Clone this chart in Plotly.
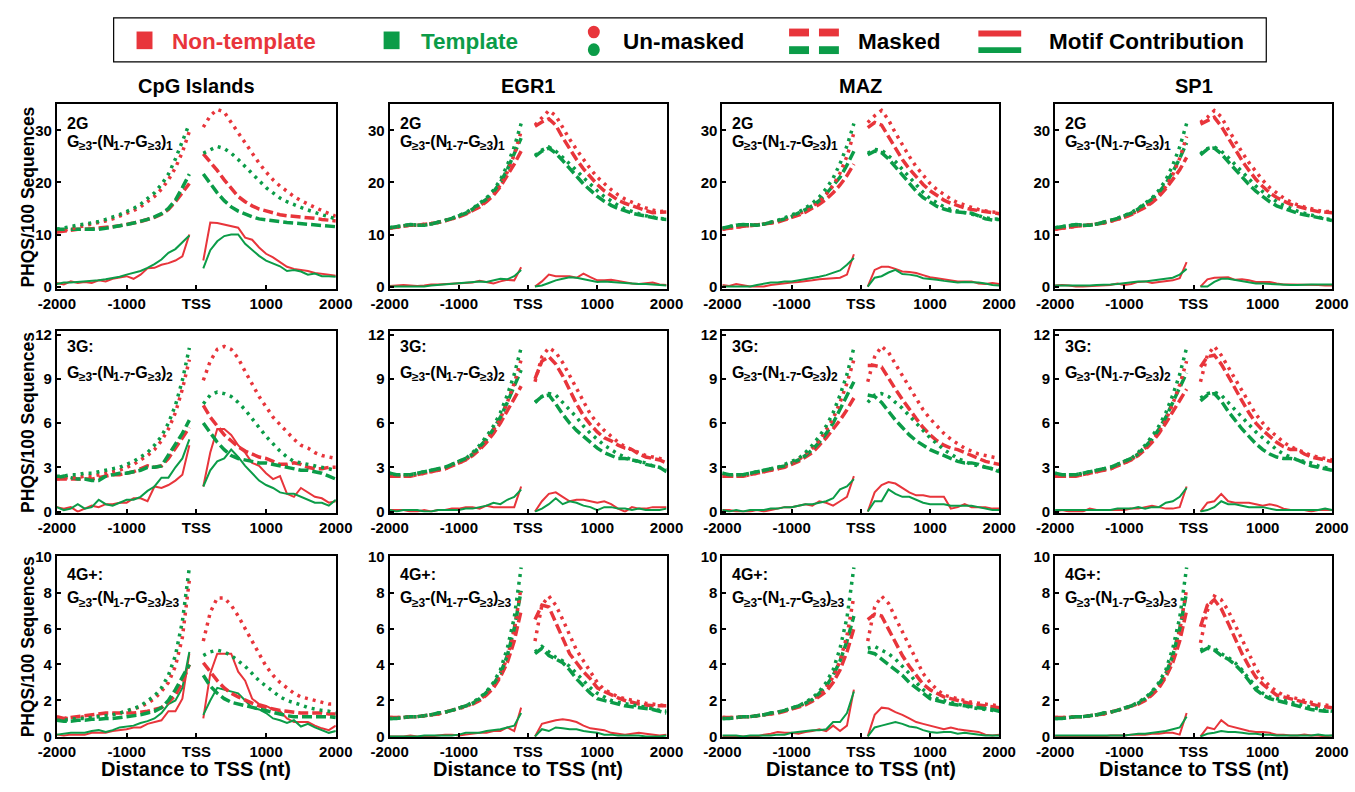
import plotly.graph_objects as go

# ---------------- data ----------------
POS = [-2000, -1900, -1800, -1700, -1600, -1500, -1400, -1300, -1200, -1100,
       -1000, -900, -800, -700, -600, -500, -400, -300, -200, -100,
       100, 200, 300, 400, 500, 600, 700, 800, 900, 1000,
       1100, 1200, 1300, 1400, 1500, 1600, 1700, 1800, 1900, 2000]

COLUMNS = ["CpG Islands", "EGR1", "MAZ", "SP1"]
ROW_LABELS = ["2G", "3G:", "4G+:"]
ROW_SUBS = ["1", "2", "≥3"]
X_TICK_VALS = [-2000, -1000, 0, 1000, 2000]
X_TICK_TEXT = ["-2000", "-1000", "TSS", "1000", "2000"]
Y_TICKS = [[0, 10, 20, 30], [0, 3, 6, 9, 12], [0, 2, 4, 6, 8, 10]]
Y_RANGES = [[-0.5, 35.05], [-0.07, 12.22], [-0.03, 10.05]]

# ---- CpG Islands, 2G ----
cpg_2g_nt_um = [10.5, 10.8, 11.0, 11.3, 11.6, 11.9, 12.2, 12.6, 13.0, 13.5, 14.0, 14.6, 15.3, 16.2, 17.3, 18.7, 20.5, 22.8, 25.8, 29.8,
                30.6, 32.8, 34.0, 33.5, 31.5, 29.5, 27.5, 25.5, 23.7, 22.0, 20.5, 19.3, 18.2, 17.3, 16.5, 15.8, 15.2, 14.6, 14.0, 13.5]
cpg_2g_t_um = [11.0, 11.3, 11.6, 11.8, 12.0, 12.2, 12.5, 12.9, 13.3, 13.8, 14.4, 15.0, 15.8, 16.8, 18.0, 19.6, 21.6, 24.5, 28.0, 31.3,
               25.6, 26.3, 26.9, 26.5, 25.6, 24.4, 23.0, 21.6, 20.3, 19.0, 18.0, 17.0, 16.3, 15.7, 15.2, 14.7, 14.2, 13.8, 13.4, 13.0]
cpg_2g_nt_m = [10.5, 10.7, 10.9, 11.0, 11.0, 11.1, 11.2, 11.3, 11.5, 11.7, 11.9, 12.2, 12.5, 12.9, 13.3, 13.9, 14.8, 16.3, 18.0, 19.8,
               25.5, 24.0, 22.3, 20.5, 18.8, 17.3, 16.3, 15.5, 14.9, 14.5, 14.1, 13.8, 13.6, 13.5, 13.4, 13.3, 13.1, 12.9, 12.7, 12.6]
cpg_2g_t_m = [11.0, 11.0, 11.0, 10.9, 10.9, 10.9, 11.0, 11.2, 11.4, 11.6, 11.9, 12.2, 12.5, 12.9, 13.4, 14.0, 15.0, 16.6, 19.0, 21.6,
              21.6, 19.8, 18.0, 16.5, 15.3, 14.5, 13.9, 13.4, 13.0, 12.8, 12.6, 12.4, 12.3, 12.2, 12.1, 12.0, 11.9, 11.7, 11.6, 11.5]
cpg_2g_nt_mc = [0.7, 0.4, 1.0, 0.7, 0.9, 0.7, 1.2, 1.0, 1.5, 1.7, 2.0, 1.5, 2.3, 3.5, 3.6, 4.2, 4.5, 5.0, 5.8, 10.0,
                5.0, 12.3, 12.2, 11.9, 11.6, 11.3, 9.4, 9.0, 7.5, 6.3, 5.6, 4.7, 3.8, 3.4, 3.2, 3.0, 2.6, 2.5, 2.3, 2.1]
cpg_2g_t_mc = [0.5, 0.8, 0.8, 0.9, 1.0, 1.0, 1.2, 1.4, 1.6, 1.9, 2.3, 2.6, 3.0, 3.6, 4.3, 5.2, 6.5, 7.2, 8.5, 9.8,
               3.5, 7.0, 8.7, 9.7, 10.0, 10.0, 8.2, 7.0, 5.9, 5.0, 4.5, 3.9, 3.0, 3.2, 2.9, 2.3, 2.5, 2.0, 2.0, 1.9]

# ---- CpG Islands, 3G ----
cpg_3g_nt_um = [2.2, 2.3, 2.3, 2.3, 2.4, 2.4, 2.5, 2.6, 2.7, 2.8, 3.0, 3.2, 3.5, 3.8, 4.2, 4.8, 5.6, 6.7, 8.3, 10.3,
                8.9, 10.2, 11.0, 11.2, 11.0, 10.4, 9.5, 8.6, 7.8, 7.1, 6.4, 5.9, 5.4, 4.9, 4.5, 4.3, 4.0, 3.8, 3.7, 3.6]
cpg_3g_t_um = [2.4, 2.4, 2.5, 2.5, 2.6, 2.6, 2.7, 2.8, 2.9, 3.0, 3.2, 3.4, 3.7, 4.0, 4.5, 5.1, 6.0, 7.2, 8.9, 11.1,
               7.3, 7.9, 8.1, 8.0, 7.8, 7.4, 6.9, 6.3, 5.7, 5.1, 4.6, 4.1, 3.7, 3.4, 3.3, 3.2, 3.1, 3.0, 2.9, 2.8]
cpg_3g_nt_m = [2.2, 2.2, 2.2, 2.2, 2.2, 2.2, 2.3, 2.4, 2.5, 2.5, 2.6, 2.7, 2.9, 3.1, 3.0, 3.1, 3.6, 4.3, 5.0, 5.7,
               7.2, 6.4, 5.8, 5.2, 4.8, 4.4, 4.1, 3.9, 3.7, 3.6, 3.4, 3.2, 3.2, 3.3, 3.2, 3.0, 2.9, 2.9, 3.0, 3.0]
cpg_3g_t_m = [2.3, 2.4, 2.3, 2.2, 2.2, 2.1, 2.1, 2.4, 2.5, 2.6, 2.6, 2.7, 2.8, 3.0, 3.0, 3.1, 3.8, 4.5, 5.3, 6.2,
              6.0, 5.3, 4.7, 4.2, 3.8, 3.6, 3.5, 3.4, 3.3, 3.3, 3.2, 3.1, 3.0, 2.9, 2.8, 2.8, 2.7, 2.6, 2.4, 2.2]
cpg_3g_nt_mc = [0.3, 0.2, 0.3, 0.0, 0.2, 0.4, 0.3, 0.5, 0.5, 0.6, 0.6, 0.9, 0.9, 0.7, 1.7, 1.6, 1.8, 2.1, 2.5, 4.5,
                1.7, 4.0, 5.6, 5.6, 5.2, 4.5, 4.0, 3.3, 3.1, 2.6, 2.2, 2.4, 1.2, 1.0, 1.6, 1.3, 1.0, 0.9, 0.6, 0.7]
cpg_3g_t_mc = [0.3, 0.1, 0.2, 0.5, 0.2, 0.3, 0.8, 0.5, 0.4, 0.6, 0.8, 0.8, 1.0, 1.4, 1.7, 2.3, 2.3, 3.0, 3.6, 4.9,
               1.7, 2.8, 3.4, 3.6, 4.2, 3.7, 3.1, 2.6, 2.1, 1.8, 1.6, 1.3, 1.2, 1.2, 1.0, 0.8, 0.6, 0.6, 0.4, 0.8]

# ---- CpG Islands, 4G+ ----
cpg_4g_nt_um = [1.0, 1.0, 1.0, 1.05, 1.1, 1.1, 1.15, 1.2, 1.25, 1.3, 1.4, 1.5, 1.65, 1.85, 2.1, 2.5, 3.0, 3.9, 5.5, 8.7,
                5.3, 6.9, 7.7, 7.7, 7.3, 6.7, 6.0, 5.3, 4.6, 3.9, 3.4, 3.0, 2.7, 2.4, 2.2, 2.1, 2.0, 1.9, 1.8, 1.8]
cpg_4g_t_um = [0.9, 0.9, 0.95, 1.0, 1.0, 1.05, 1.1, 1.15, 1.2, 1.3, 1.4, 1.55, 1.7, 1.95, 2.25, 2.7, 3.4, 4.5, 6.4, 9.4,
               4.5, 4.7, 4.8, 4.7, 4.5, 4.2, 3.9, 3.5, 3.1, 2.8, 2.5, 2.2, 2.0, 1.9, 1.75, 1.6, 1.5, 1.45, 1.4, 1.3]
cpg_4g_nt_m = [1.1, 1.0, 1.05, 1.1, 1.15, 1.2, 1.25, 1.3, 1.3, 1.3, 1.3, 1.3, 1.35, 1.4, 1.5, 1.6, 1.9, 2.3, 3.0, 4.0,
               4.1, 3.6, 3.1, 2.7, 2.4, 2.2, 2.0, 1.85, 1.7, 1.6, 1.5, 1.45, 1.4, 1.35, 1.3, 1.3, 1.3, 1.3, 1.25, 1.25]
cpg_4g_t_m = [0.9, 0.85, 0.85, 0.9, 0.9, 0.95, 0.95, 1.0, 1.0, 1.05, 1.1, 1.15, 1.2, 1.3, 1.4, 1.6, 2.0, 2.6, 3.3, 4.0,
              3.4, 2.8, 2.4, 2.1, 1.9, 1.8, 1.7, 1.6, 1.5, 1.4, 1.3, 1.2, 1.15, 1.1, 1.1, 1.1, 1.1, 1.1, 1.1, 1.05]
cpg_4g_nt_mc = [0.1, 0.05, 0.1, 0.1, 0.1, 0.2, 0.2, 0.2, 0.3, 0.35, 0.4, 0.5, 0.5, 0.7, 0.8, 0.9, 1.4, 1.4, 2.1, 4.6,
                1.0, 3.5, 4.6, 4.6, 4.6, 3.6, 3.1, 2.1, 1.8, 1.7, 1.5, 1.4, 1.0, 0.8, 0.8, 0.8, 0.6, 0.45, 0.35, 0.6]
cpg_4g_t_mc = [0.1, 0.15, 0.2, 0.2, 0.2, 0.3, 0.35, 0.25, 0.35, 0.5, 0.55, 0.6, 0.75, 0.85, 1.0, 1.3, 1.8, 2.0, 2.7, 4.7,
               1.2, 2.0, 2.7, 2.6, 2.5, 2.4, 2.0, 1.6, 1.5, 1.3, 1.0, 0.9, 0.75, 0.9, 0.55, 0.7, 0.5, 0.35, 0.2, 0.3]

# ---- EGR1, 2G ----
egr1_2g_nt_um = [11.2, 11.4, 11.6, 11.8, 11.8, 11.9, 12.1, 12.3, 12.6, 13.0, 13.5, 14.0, 14.7, 15.5, 16.5, 17.8, 19.5, 22.0, 25.3, 29.8,
                 31.0, 32.5, 33.8, 32.8, 30.5, 28.3, 26.3, 24.4, 22.6, 21.0, 19.7, 18.6, 17.6, 16.8, 16.2, 15.6, 15.1, 14.7, 14.4, 14.5]
egr1_2g_t_um = [11.3, 11.5, 11.8, 11.9, 11.8, 11.8, 12.0, 12.3, 12.7, 13.1, 13.6, 14.2, 15.0, 15.9, 17.0, 18.5, 20.5, 23.3, 26.8, 31.3,
                25.2, 26.2, 26.8, 26.0, 24.8, 23.6, 22.3, 20.9, 19.6, 18.4, 17.3, 16.4, 15.6, 14.9, 14.4, 14.0, 13.6, 13.3, 13.1, 13.0]
egr1_2g_nt_m = [11.2, 11.4, 11.6, 11.8, 11.8, 11.9, 12.1, 12.3, 12.6, 13.0, 13.4, 13.9, 14.6, 15.3, 16.3, 17.5, 19.2, 21.3, 23.5, 26.0,
                30.8, 31.6, 32.2, 31.0, 28.6, 26.4, 24.4, 22.6, 21.0, 19.6, 18.4, 17.4, 16.6, 16.0, 15.5, 15.0, 14.6, 14.2, 14.2, 14.3]
egr1_2g_t_m = [11.3, 11.5, 11.8, 11.9, 11.8, 11.8, 12.0, 12.3, 12.7, 13.1, 13.6, 14.1, 14.9, 15.8, 16.8, 18.2, 20.0, 22.5, 25.5, 28.5,
               25.0, 26.0, 26.6, 25.6, 24.2, 22.8, 21.2, 19.7, 18.4, 17.3, 16.4, 15.6, 15.0, 14.5, 14.1, 13.8, 13.5, 13.2, 13.0, 12.9]
egr1_2g_nt_mc = [0.1, 0.2, 0.3, 0.2, 0.1, 0.2, 0.4, 0.4, 0.5, 0.6, 0.6, 0.7, 0.8, 1.1, 0.8, 0.6, 1.0, 1.3, 1.2, 3.7,
                 0.0, 1.0, 2.3, 2.0, 2.0, 2.0, 1.7, 2.5, 1.8, 1.2, 1.2, 1.3, 1.1, 0.8, 0.6, 0.5, 0.7, 0.8, 0.4, 0.3]
egr1_2g_t_mc = [0.0, 0.0, 0.1, 0.0, 0.0, 0.0, 0.2, 0.3, 0.4, 0.5, 0.7, 0.8, 0.9, 1.0, 0.9, 1.2, 1.5, 1.4, 2.0, 3.2,
                0.0, 0.2, 0.7, 1.2, 1.5, 1.8, 1.7, 1.4, 1.2, 0.9, 1.0, 0.9, 0.8, 0.6, 0.6, 0.5, 0.5, 0.4, 0.3, 0.2]

# ---- EGR1, 3G ----
egr1_3g_nt_um = [2.4, 2.4, 2.4, 2.4, 2.5, 2.6, 2.7, 2.8, 2.9, 3.1, 3.3, 3.5, 3.9, 4.3, 4.8, 5.5, 6.3, 7.4, 8.7, 10.3,
                 8.8, 10.5, 11.1, 10.8, 10.1, 9.2, 8.3, 7.4, 6.6, 6.0, 5.5, 5.1, 4.7, 4.4, 4.2, 4.0, 3.8, 3.7, 3.6, 3.5]
egr1_3g_t_um = [2.6, 2.5, 2.5, 2.5, 2.6, 2.7, 2.8, 2.9, 3.0, 3.2, 3.4, 3.6, 4.0, 4.5, 5.1, 5.8, 6.7, 7.9, 9.3, 11.1,
                7.4, 7.8, 8.0, 7.9, 7.4, 6.9, 6.4, 5.8, 5.3, 4.9, 4.5, 4.2, 3.9, 3.7, 3.5, 3.4, 3.3, 3.1, 3.0, 2.8]
egr1_3g_nt_m = [2.4, 2.4, 2.4, 2.4, 2.5, 2.6, 2.7, 2.8, 2.9, 3.1, 3.3, 3.5, 3.8, 4.2, 4.7, 5.3, 6.0, 6.8, 7.6, 8.5,
                9.0, 10.2, 10.5, 10.0, 9.2, 8.2, 7.3, 6.5, 5.9, 5.4, 5.0, 4.8, 4.5, 4.3, 4.2, 3.9, 3.7, 3.6, 3.5, 3.3]
egr1_3g_t_m = [2.6, 2.5, 2.5, 2.5, 2.6, 2.7, 2.8, 2.9, 3.0, 3.2, 3.4, 3.6, 3.9, 4.4, 4.9, 5.6, 6.4, 7.4, 8.5, 9.6,
               7.4, 7.8, 7.9, 7.3, 6.6, 6.0, 5.5, 5.1, 4.7, 4.3, 4.0, 3.8, 3.6, 3.6, 3.5, 3.4, 3.2, 3.1, 3.0, 2.7]
egr1_3g_nt_mc = [0.1, 0.1, 0.1, 0.0, 0.0, 0.1, 0.0, 0.1, 0.1, 0.2, 0.2, 0.3, 0.3, 0.2, 0.4, 0.3, 0.3, 0.3, 0.3, 1.7,
                 0.0, 0.7, 1.2, 1.3, 1.0, 0.7, 0.8, 0.8, 0.7, 0.6, 0.7, 0.5, 0.2, 0.0, 0.3, 0.2, 0.2, 0.3, 0.3, 0.3]
egr1_3g_t_mc = [0.1, 0.0, 0.1, 0.1, 0.1, 0.0, 0.0, 0.1, 0.1, 0.1, 0.1, 0.2, 0.2, 0.3, 0.4, 0.6, 0.5, 0.8, 1.0, 1.5,
                0.0, 0.2, 0.5, 0.9, 0.5, 0.7, 0.6, 0.4, 0.3, 0.1, 0.3, 0.3, 0.2, 0.2, 0.1, 0.2, 0.1, 0.1, 0.1, 0.2]

# ---- EGR1, 4G+ ----
egr1_4g_nt_um = [1.05, 1.05, 1.05, 1.1, 1.1, 1.15, 1.2, 1.25, 1.35, 1.45, 1.55, 1.65, 1.85, 2.05, 2.35, 2.8, 3.4, 4.4, 5.9, 8.3,
                 5.3, 7.3, 7.8, 7.3, 6.5, 5.6, 4.8, 4.2, 3.6, 3.0, 2.6, 2.4, 2.2, 2.1, 2.0, 1.9, 1.85, 1.8, 1.75, 1.7]
egr1_4g_t_um = [1.0, 1.0, 1.05, 1.1, 1.1, 1.15, 1.2, 1.3, 1.35, 1.45, 1.55, 1.7, 1.9, 2.15, 2.5, 3.0, 3.7, 4.9, 6.6, 9.4,
                4.7, 5.0, 4.7, 4.4, 4.2, 3.9, 3.5, 3.1, 2.7, 2.4, 2.2, 2.0, 1.9, 1.8, 1.75, 1.7, 1.6, 1.5, 1.45, 1.4]
egr1_4g_nt_m = [1.05, 1.05, 1.05, 1.1, 1.1, 1.15, 1.2, 1.25, 1.35, 1.45, 1.55, 1.65, 1.8, 2.0, 2.3, 2.7, 3.3, 4.1, 5.3, 7.0,
                6.5, 7.3, 7.2, 6.3, 5.5, 4.6, 4.1, 3.6, 3.2, 2.7, 2.5, 2.3, 2.15, 2.0, 1.9, 1.8, 1.75, 1.7, 1.7, 1.7]
egr1_4g_t_m = [1.0, 1.0, 1.05, 1.1, 1.1, 1.15, 1.2, 1.3, 1.35, 1.45, 1.55, 1.7, 1.85, 2.1, 2.45, 2.9, 3.5, 4.5, 6.0, 8.1,
               4.6, 4.9, 4.5, 4.3, 4.1, 3.7, 3.2, 2.8, 2.4, 2.1, 2.0, 1.9, 1.8, 1.7, 1.65, 1.6, 1.55, 1.5, 1.4, 1.3]
egr1_4g_nt_mc = [0.0, 0.0, 0.0, 0.05, 0.0, 0.0, 0.0, 0.05, 0.1, 0.1, 0.05, 0.1, 0.15, 0.2, 0.2, 0.3, 0.3, 0.5, 0.3, 1.6,
                 0.0, 0.7, 0.8, 0.9, 0.95, 0.9, 0.8, 0.6, 0.45, 0.4, 0.35, 0.2, 0.15, 0.1, 0.15, 0.2, 0.15, 0.1, 0.05, 0.1]
egr1_4g_t_mc = [0.0, 0.0, 0.0, 0.0, 0.0, 0.05, 0.05, 0.05, 0.05, 0.05, 0.1, 0.2, 0.2, 0.2, 0.3, 0.35, 0.4, 0.5, 0.6, 1.3,
                0.0, 0.4, 0.3, 0.5, 0.45, 0.4, 0.4, 0.3, 0.25, 0.2, 0.1, 0.1, 0.05, 0.05, 0.05, 0.05, 0.0, 0.0, 0.0, 0.05]

# ---- MAZ, 2G ----
maz_2g_nt_um = [11.0, 11.2, 11.5, 11.6, 11.7, 11.8, 12.0, 12.2, 12.5, 12.9, 13.4, 13.9, 14.6, 15.4, 16.4, 17.7, 19.4, 21.8, 25.0, 29.5,
                31.5, 32.8, 33.8, 32.0, 29.5, 27.2, 25.0, 23.0, 21.3, 19.8, 18.6, 17.6, 16.8, 16.1, 15.6, 15.2, 14.8, 14.5, 14.3, 14.2]
maz_2g_t_um = [11.2, 11.5, 11.8, 11.9, 11.8, 11.8, 12.0, 12.3, 12.7, 13.2, 13.7, 14.3, 15.1, 16.0, 17.2, 18.8, 20.8, 23.6, 27.0, 31.3,
               25.6, 26.3, 26.2, 25.2, 24.0, 22.5, 21.0, 19.5, 18.1, 16.9, 16.0, 15.3, 14.8, 14.5, 14.3, 14.0, 13.6, 13.2, 13.0, 13.0]
maz_2g_nt_m = [11.0, 11.2, 11.5, 11.6, 11.7, 11.8, 12.0, 12.2, 12.4, 12.8, 13.2, 13.7, 14.3, 15.0, 15.8, 16.8, 18.0, 19.5, 21.3, 23.5,
               30.5, 31.5, 31.0, 28.8, 26.5, 24.4, 22.6, 21.0, 19.6, 18.4, 17.4, 16.6, 16.0, 15.5, 15.1, 14.8, 14.6, 14.4, 14.2, 14.0]
maz_2g_t_m = [11.2, 11.5, 11.8, 11.9, 11.8, 11.8, 12.0, 12.3, 12.6, 13.0, 13.5, 14.1, 14.8, 15.5, 16.5, 17.8, 19.3, 21.0, 23.3, 26.0,
              25.3, 26.0, 25.7, 24.5, 23.0, 21.4, 19.8, 18.3, 17.1, 16.2, 15.4, 14.9, 14.5, 14.3, 14.2, 14.1, 13.6, 13.0, 12.8, 12.9]
maz_2g_nt_mc = [0.3, 0.1, 0.5, 0.2, 0.0, 0.0, 0.0, 0.3, 0.5, 0.7, 0.8, 0.9, 1.0, 1.2, 1.4, 1.5, 1.6, 1.7, 2.3, 6.2,
                0.0, 3.2, 3.8, 3.8, 3.4, 2.9, 2.8, 2.6, 2.2, 1.8, 1.6, 1.4, 1.1, 1.0, 1.0, 1.0, 0.6, 0.5, 0.7, 0.5]
maz_2g_t_mc = [0.0, 0.0, 0.1, 0.0, 0.0, 0.3, 0.6, 0.8, 0.8, 1.0, 1.0, 1.2, 1.4, 1.6, 1.9, 2.2, 2.7, 3.1, 4.2, 5.5,
               0.0, 1.7, 2.0, 2.7, 3.2, 2.4, 2.3, 2.1, 1.6, 1.5, 1.3, 1.1, 0.9, 0.8, 0.9, 0.9, 0.8, 0.6, 0.3, 0.2]

# ---- MAZ, 3G ----
maz_3g_nt_um = [2.4, 2.4, 2.4, 2.4, 2.5, 2.6, 2.7, 2.8, 2.9, 3.1, 3.3, 3.5, 3.9, 4.3, 4.8, 5.5, 6.3, 7.4, 8.7, 10.3,
                8.8, 10.5, 11.2, 10.8, 10.0, 9.2, 8.4, 7.6, 6.9, 6.3, 5.8, 5.3, 4.9, 4.6, 4.3, 4.1, 3.9, 3.8, 3.7, 3.6]
maz_3g_t_um = [2.6, 2.5, 2.5, 2.5, 2.6, 2.7, 2.8, 2.9, 3.0, 3.2, 3.4, 3.6, 4.0, 4.5, 5.1, 5.8, 6.7, 7.9, 9.3, 11.1,
               7.4, 7.9, 8.0, 7.8, 7.4, 7.0, 6.5, 6.0, 5.5, 5.0, 4.6, 4.2, 3.9, 3.6, 3.4, 3.2, 3.1, 3.0, 2.9, 2.8]
maz_3g_nt_m = [2.4, 2.4, 2.4, 2.4, 2.5, 2.6, 2.7, 2.8, 2.9, 3.0, 3.2, 3.4, 3.7, 4.0, 4.5, 5.0, 5.6, 6.2, 6.9, 7.7,
               9.9, 9.9, 9.8, 9.0, 8.3, 7.6, 6.9, 6.3, 5.7, 5.2, 4.8, 4.5, 4.3, 4.2, 4.0, 3.8, 3.6, 3.4, 3.3, 3.2]
maz_3g_t_m = [2.6, 2.5, 2.5, 2.5, 2.6, 2.7, 2.8, 2.9, 3.0, 3.1, 3.3, 3.5, 3.8, 4.2, 4.7, 5.3, 6.0, 6.9, 7.8, 8.8,
              7.9, 7.8, 7.4, 6.8, 6.2, 5.7, 5.2, 4.8, 4.5, 4.2, 4.0, 3.8, 3.6, 3.4, 3.3, 3.3, 3.2, 3.0, 2.9, 2.7]
maz_3g_nt_mc = [0.1, 0.1, 0.0, 0.0, 0.0, 0.1, 0.0, 0.1, 0.2, 0.3, 0.3, 0.4, 0.5, 0.4, 0.7, 0.6, 0.4, 0.7, 1.0, 2.4,
                0.0, 1.3, 1.8, 2.0, 1.9, 1.6, 1.3, 1.1, 1.1, 1.0, 1.0, 1.0, 0.2, 0.3, 0.5, 0.3, 0.3, 0.3, 0.2, 0.2]
maz_3g_t_mc = [0.1, 0.0, 0.1, 0.0, 0.1, 0.1, 0.1, 0.2, 0.2, 0.3, 0.3, 0.4, 0.5, 0.5, 0.6, 0.7, 0.9, 1.5, 1.7, 2.2,
               0.0, 0.7, 0.7, 1.5, 1.2, 1.0, 1.0, 0.8, 0.6, 0.5, 0.5, 0.5, 0.4, 0.4, 0.4, 0.4, 0.3, 0.2, 0.1, 0.1]

# ---- MAZ, 4G+ ----
maz_4g_nt_um = [1.05, 1.05, 1.05, 1.1, 1.1, 1.15, 1.2, 1.25, 1.35, 1.45, 1.55, 1.65, 1.85, 2.05, 2.3, 2.7, 3.3, 4.2, 5.6, 7.8,
                5.3, 7.2, 7.8, 7.4, 6.6, 5.8, 5.0, 4.3, 3.5, 3.0, 2.6, 2.3, 2.2, 2.1, 2.0, 1.9, 1.85, 1.8, 1.75, 1.7]
maz_4g_t_um = [1.0, 1.0, 1.05, 1.1, 1.1, 1.15, 1.2, 1.3, 1.35, 1.45, 1.55, 1.7, 1.9, 2.15, 2.5, 3.0, 3.7, 4.9, 6.6, 9.4,
               4.9, 5.0, 4.8, 4.6, 4.3, 3.9, 3.5, 3.0, 2.6, 2.3, 2.1, 2.0, 1.9, 1.8, 1.7, 1.6, 1.55, 1.5, 1.45, 1.4]
maz_4g_nt_m = [1.05, 1.05, 1.05, 1.1, 1.1, 1.15, 1.2, 1.25, 1.3, 1.4, 1.5, 1.6, 1.75, 1.95, 2.2, 2.5, 3.0, 3.7, 4.7, 6.0,
               6.5, 6.8, 6.7, 6.0, 5.2, 4.5, 3.9, 3.4, 2.9, 2.6, 2.4, 2.2, 2.1, 2.0, 1.9, 1.8, 1.75, 1.7, 1.65, 1.6]
maz_4g_t_m = [1.0, 1.0, 1.05, 1.1, 1.1, 1.15, 1.2, 1.3, 1.35, 1.45, 1.55, 1.7, 1.85, 2.05, 2.4, 2.8, 3.4, 4.2, 5.3, 6.7,
              4.7, 4.6, 4.3, 4.0, 3.7, 3.4, 3.0, 2.7, 2.4, 2.1, 2.0, 1.9, 1.8, 1.75, 1.7, 1.65, 1.6, 1.55, 1.5, 1.4]
maz_4g_nt_mc = [0.0, 0.0, 0.0, 0.0, 0.0, 0.0, 0.1, 0.15, 0.25, 0.2, 0.2, 0.15, 0.25, 0.3, 0.4, 0.3, 0.6, 0.3, 0.6, 2.6,
                0.0, 1.2, 1.6, 1.55, 1.35, 1.2, 1.0, 0.8, 0.7, 0.6, 0.5, 0.4, 0.5, 0.4, 0.35, 0.3, 0.25, 0.1, 0.05, 0.1]
maz_4g_t_mc = [0.05, 0.05, 0.05, 0.0, 0.05, 0.05, 0.05, 0.05, 0.1, 0.1, 0.2, 0.25, 0.3, 0.35, 0.35, 0.4, 0.8, 0.8, 1.3, 2.5,
               0.0, 0.5, 0.6, 0.7, 0.8, 0.7, 0.55, 0.5, 0.35, 0.25, 0.2, 0.25, 0.25, 0.15, 0.2, 0.15, 0.1, 0.05, 0.05, 0.05]

# ---- SP1, 2G ----
sp1_2g_nt_um = [11.0, 11.2, 11.5, 11.6, 11.7, 11.8, 12.0, 12.2, 12.5, 12.9, 13.4, 13.9, 14.6, 15.4, 16.4, 17.6, 19.2, 21.5, 24.6, 28.8,
                31.5, 32.5, 33.8, 32.6, 30.2, 27.9, 25.8, 23.8, 22.0, 20.4, 19.0, 17.9, 17.0, 16.3, 15.7, 15.3, 14.9, 14.6, 14.4, 14.4]
sp1_2g_t_um = [11.3, 11.5, 11.8, 11.9, 11.8, 11.8, 12.0, 12.3, 12.7, 13.1, 13.6, 14.2, 15.0, 15.9, 17.0, 18.5, 20.5, 23.3, 26.8, 31.3,
               25.5, 26.5, 26.8, 26.0, 24.8, 23.4, 22.0, 20.6, 19.3, 18.2, 17.2, 16.3, 15.6, 15.0, 14.5, 14.1, 13.7, 13.3, 13.0, 12.9]
sp1_2g_nt_m = [11.0, 11.2, 11.5, 11.6, 11.7, 11.8, 12.0, 12.2, 12.5, 12.9, 13.3, 13.8, 14.5, 15.2, 16.1, 17.3, 18.8, 20.5, 22.4, 24.8,
               31.2, 31.8, 32.5, 30.8, 28.5, 26.2, 24.2, 22.3, 20.6, 19.2, 18.0, 17.1, 16.4, 15.8, 15.4, 15.0, 14.7, 14.4, 14.3, 14.2]
sp1_2g_t_m = [11.3, 11.5, 11.8, 11.9, 11.8, 11.8, 12.0, 12.3, 12.7, 13.1, 13.6, 14.1, 14.9, 15.8, 16.8, 18.1, 19.8, 22.0, 24.6, 27.6,
              25.3, 26.4, 26.6, 25.5, 24.0, 22.5, 21.0, 19.6, 18.3, 17.2, 16.3, 15.5, 15.0, 14.5, 14.1, 13.8, 13.5, 13.2, 12.9, 12.7]
sp1_2g_nt_mc = [0.2, 0.3, 0.2, 0.0, 0.0, 0.1, 0.2, 0.3, 0.3, 0.6, 0.3, 0.5, 0.9, 1.0, 0.7, 0.9, 1.1, 1.2, 1.6, 4.7,
                0.0, 1.4, 1.7, 1.8, 1.8, 1.3, 1.4, 1.2, 0.9, 0.9, 0.9, 0.6, 0.4, 0.4, 0.4, 0.3, 0.3, 0.3, 0.2, 0.2]
sp1_2g_t_mc = [0.2, 0.2, 0.2, 0.2, 0.1, 0.2, 0.3, 0.3, 0.4, 0.5, 0.7, 0.8, 1.0, 1.0, 1.2, 1.4, 1.6, 1.7, 2.3, 3.4,
               0.0, 0.0, 0.9, 1.5, 1.5, 1.3, 1.1, 0.9, 0.6, 0.6, 0.5, 0.4, 0.3, 0.3, 0.3, 0.4, 0.4, 0.4, 0.4, 0.4]

# ---- SP1, 3G ----
sp1_3g_nt_um = [2.4, 2.4, 2.4, 2.4, 2.5, 2.6, 2.7, 2.8, 2.9, 3.1, 3.3, 3.5, 3.9, 4.3, 4.8, 5.4, 6.2, 7.3, 8.6, 10.2,
                8.8, 10.6, 11.2, 10.6, 9.8, 9.0, 8.1, 7.3, 6.6, 6.0, 5.5, 5.1, 4.7, 4.4, 4.2, 4.0, 3.8, 3.7, 3.6, 3.5]
sp1_3g_t_um = [2.6, 2.5, 2.5, 2.5, 2.6, 2.7, 2.8, 2.9, 3.0, 3.2, 3.4, 3.6, 4.0, 4.5, 5.1, 5.8, 6.7, 7.9, 9.3, 11.1,
               7.7, 8.0, 8.1, 7.9, 7.4, 6.9, 6.4, 5.9, 5.4, 5.0, 4.6, 4.2, 3.9, 3.7, 3.5, 3.4, 3.3, 3.1, 3.0, 2.8]
sp1_3g_nt_m = [2.4, 2.4, 2.4, 2.4, 2.5, 2.6, 2.7, 2.8, 2.9, 3.1, 3.3, 3.5, 3.8, 4.2, 4.7, 5.3, 6.0, 6.8, 7.6, 8.3,
               9.8, 10.5, 10.6, 10.0, 9.2, 8.3, 7.5, 6.7, 6.0, 5.5, 5.1, 4.7, 4.4, 4.2, 4.2, 3.9, 3.7, 3.6, 3.5, 3.4]
sp1_3g_t_m = [2.6, 2.5, 2.5, 2.5, 2.6, 2.7, 2.8, 2.9, 3.0, 3.2, 3.4, 3.6, 3.9, 4.4, 4.9, 5.6, 6.4, 7.4, 8.4, 9.4,
              7.5, 7.9, 8.0, 7.5, 6.8, 6.2, 5.6, 5.1, 4.6, 4.2, 3.9, 3.7, 3.6, 3.6, 3.5, 3.3, 3.1, 3.0, 2.9, 2.8]
sp1_3g_nt_mc = [0.0, 0.1, 0.0, 0.0, 0.0, 0.2, 0.1, 0.1, 0.1, 0.1, 0.1, 0.2, 0.2, 0.3, 0.4, 0.3, 0.2, 0.2, 0.3, 1.7,
                0.0, 0.6, 0.7, 1.2, 0.7, 0.6, 0.6, 0.6, 0.5, 0.4, 0.5, 0.4, 0.2, 0.1, 0.1, 0.1, 0.0, 0.1, 0.1, 0.1]
sp1_3g_t_mc = [0.1, 0.1, 0.1, 0.1, 0.1, 0.1, 0.1, 0.1, 0.1, 0.2, 0.2, 0.2, 0.3, 0.2, 0.3, 0.3, 0.6, 0.7, 1.0, 1.6,
               0.0, 0.1, 0.3, 0.7, 0.5, 0.5, 0.4, 0.3, 0.3, 0.3, 0.2, 0.1, 0.1, 0.1, 0.1, 0.1, 0.1, 0.1, 0.2, 0.1]

# ---- SP1, 4G+ ----
sp1_4g_nt_um = [1.05, 1.05, 1.05, 1.1, 1.1, 1.15, 1.2, 1.25, 1.35, 1.45, 1.55, 1.65, 1.85, 2.05, 2.35, 2.8, 3.4, 4.4, 5.9, 8.2,
                5.2, 7.0, 7.8, 7.6, 7.0, 6.2, 5.3, 4.5, 3.8, 3.2, 2.8, 2.5, 2.3, 2.2, 2.1, 2.0, 1.9, 1.8, 1.75, 1.7]
sp1_4g_t_um = [1.0, 1.0, 1.05, 1.1, 1.1, 1.15, 1.2, 1.3, 1.35, 1.45, 1.55, 1.7, 1.9, 2.15, 2.5, 3.0, 3.7, 4.9, 6.6, 9.4,
               4.8, 5.0, 4.9, 4.6, 4.4, 4.1, 3.7, 3.2, 2.8, 2.4, 2.2, 2.1, 1.95, 1.9, 1.8, 1.7, 1.6, 1.5, 1.45, 1.4]
sp1_4g_nt_m = [1.05, 1.05, 1.05, 1.1, 1.1, 1.15, 1.2, 1.25, 1.35, 1.45, 1.55, 1.65, 1.8, 2.0, 2.3, 2.7, 3.3, 4.1, 5.3, 7.0,
               6.1, 7.3, 7.6, 7.1, 6.3, 5.4, 4.6, 3.9, 3.3, 2.9, 2.6, 2.3, 2.2, 2.1, 2.0, 1.9, 1.8, 1.7, 1.65, 1.6]
sp1_4g_t_m = [1.0, 1.0, 1.05, 1.1, 1.1, 1.15, 1.2, 1.3, 1.35, 1.45, 1.55, 1.7, 1.85, 2.1, 2.45, 2.9, 3.5, 4.5, 6.0, 8.0,
              4.7, 4.9, 4.8, 4.5, 4.3, 4.0, 3.6, 3.1, 2.6, 2.3, 2.1, 2.0, 1.9, 1.8, 1.7, 1.6, 1.5, 1.45, 1.4, 1.4]
sp1_4g_nt_mc = [0.0, 0.0, 0.0, 0.0, 0.0, 0.0, 0.0, 0.0, 0.05, 0.05, 0.05, 0.1, 0.1, 0.1, 0.15, 0.15, 0.2, 0.2, 0.1, 1.3,
                0.0, 0.5, 0.4, 0.9, 0.6, 0.5, 0.4, 0.3, 0.25, 0.25, 0.2, 0.1, 0.1, 0.05, 0.05, 0.1, 0.05, 0.05, 0.0, 0.05]
sp1_4g_t_mc = [0.05, 0.05, 0.05, 0.05, 0.05, 0.05, 0.05, 0.05, 0.05, 0.05, 0.05, 0.1, 0.15, 0.15, 0.2, 0.25, 0.3, 0.4, 0.5, 1.1,
               0.0, 0.15, 0.2, 0.3, 0.25, 0.25, 0.2, 0.15, 0.15, 0.1, 0.1, 0.05, 0.05, 0.05, 0.05, 0.05, 0.05, 0.1, 0.05, 0.05]

PANELS = [
    [(cpg_2g_nt_um, cpg_2g_t_um, cpg_2g_nt_m, cpg_2g_t_m, cpg_2g_nt_mc, cpg_2g_t_mc),
     (egr1_2g_nt_um, egr1_2g_t_um, egr1_2g_nt_m, egr1_2g_t_m, egr1_2g_nt_mc, egr1_2g_t_mc),
     (maz_2g_nt_um, maz_2g_t_um, maz_2g_nt_m, maz_2g_t_m, maz_2g_nt_mc, maz_2g_t_mc),
     (sp1_2g_nt_um, sp1_2g_t_um, sp1_2g_nt_m, sp1_2g_t_m, sp1_2g_nt_mc, sp1_2g_t_mc)],
    [(cpg_3g_nt_um, cpg_3g_t_um, cpg_3g_nt_m, cpg_3g_t_m, cpg_3g_nt_mc, cpg_3g_t_mc),
     (egr1_3g_nt_um, egr1_3g_t_um, egr1_3g_nt_m, egr1_3g_t_m, egr1_3g_nt_mc, egr1_3g_t_mc),
     (maz_3g_nt_um, maz_3g_t_um, maz_3g_nt_m, maz_3g_t_m, maz_3g_nt_mc, maz_3g_t_mc),
     (sp1_3g_nt_um, sp1_3g_t_um, sp1_3g_nt_m, sp1_3g_t_m, sp1_3g_nt_mc, sp1_3g_t_mc)],
    [(cpg_4g_nt_um, cpg_4g_t_um, cpg_4g_nt_m, cpg_4g_t_m, cpg_4g_nt_mc, cpg_4g_t_mc),
     (egr1_4g_nt_um, egr1_4g_t_um, egr1_4g_nt_m, egr1_4g_t_m, egr1_4g_nt_mc, egr1_4g_t_mc),
     (maz_4g_nt_um, maz_4g_t_um, maz_4g_nt_m, maz_4g_t_m, maz_4g_nt_mc, maz_4g_t_mc),
     (sp1_4g_nt_um, sp1_4g_t_um, sp1_4g_nt_m, sp1_4g_t_m, sp1_4g_nt_mc, sp1_4g_t_mc)],
]

# ---------------- style ----------------
W, H = 1355, 792
# the photographed page shows the plot between x=16 and x=1340
SX0, SXW = 16.0, 1324.0
RED = "#E8353B"
GREEN = "#0B9C48"
FONT = "Liberation Sans, Arial, Helvetica, sans-serif"
COL_PX = [(54, 334), (388, 666), (722, 1000), (1056, 1334)]
ROW_PX = [(98, 287), (330, 515), (559, 744)]
DOT = "3px,5px"
DASH = "10px,4px"
STYLES = [  # color, dash, width
    (RED, DOT, 3.5), (GREEN, DOT, 3.5),
    (RED, DASH, 3.5), (GREEN, DASH, 3.5),
    (RED, "solid", 2.0), (GREEN, "solid", 2.0),
]
# Arial/Liberation Sans Bold advance widths (per em) for the motif label glyphs
GLYPH_W = {"G": 0.778, "≥": 0.549, "3": 0.556, "-": 0.333, "(": 0.333, ")": 0.333,
           "N": 0.722, "1": 0.556, "2": 0.556, "7": 0.556}
MAIN_SIZE, SUB_SIZE = 16, 12


def px(x):
    return (x - SX0) / SXW


def py(y):
    return 1 - y / H


def split(vals):
    return POS[:20] + [None] + POS[20:], list(vals[:20]) + [None] + list(vals[20:])


def text_w(s, size):
    return sum(GLYPH_W.get(ch, 0.6) for ch in s) * size


fig = go.Figure()
annotations = []
shapes = []


def motif_label(x_left, y_mid, tail):
    pieces = [("G", 0), ("≥3", 1), ("-(N", 0), ("1-7", 1), ("-G", 0), ("≥3", 1), (")", 0), (tail, 1)]
    xpos = x_left
    for txt, is_sub in pieces:
        size = SUB_SIZE if is_sub else MAIN_SIZE
        annotations.append(dict(xref="paper", yref="paper", x=px(xpos), y=py(y_mid + (5 if is_sub else 0)),
                                xanchor="left", yanchor="middle", showarrow=False,
                                text=f"<b>{txt}</b>", font=dict(family=FONT, size=size, color="black")))
        xpos += text_w(txt, size) * SXW / W


for r in range(3):
    for c in range(4):
        k = r * 4 + c + 1
        xa = "x" if k == 1 else f"x{k}"
        ya = "y" if k == 1 else f"y{k}"
        order = [4, 5, 2, 3, 0, 1]
        series = PANELS[r][c]
        for i in order:
            color, dash, width = STYLES[i]
            xs, ys = split(series[i])
            fig.add_trace(go.Scatter(x=xs, y=ys, mode="lines", xaxis=xa, yaxis=ya,
                                     line=dict(color=color, dash=dash, width=width),
                                     showlegend=False, hoverinfo="skip"))
        axis_common = dict(showline=True, linewidth=2, linecolor="black", mirror=True,
                           ticks="inside", ticklen=4, tickwidth=1.5, tickcolor="black",
                           showgrid=False, zeroline=False,
                           tickfont=dict(family=FONT, size=15, color="black", weight="bold"))
        x0, x1 = COL_PX[c]
        y0, y1 = ROW_PX[r]
        fig.update_layout(**{
            ("xaxis" if k == 1 else f"xaxis{k}"): dict(
                domain=[px(x0), px(x1)], anchor=ya, range=[-2000, 2000],
                tickvals=X_TICK_VALS, ticktext=X_TICK_TEXT, **axis_common),
            ("yaxis" if k == 1 else f"yaxis{k}"): dict(
                domain=[py(y1), py(y0)], anchor=xa, range=Y_RANGES[r],
                tickvals=Y_TICKS[r], ticktext=[str(v) for v in Y_TICKS[r]], **axis_common),
        })
        # panel motif labels
        line_y = [(118, 136), (345, 372), (578, 602)][r]
        annotations.append(dict(xref="paper", yref="paper", x=px(x0 + 8), y=py(line_y[0]),
                                xanchor="left", yanchor="middle", showarrow=False,
                                text=f"<b>{ROW_LABELS[r]}</b>",
                                font=dict(family=FONT, size=MAIN_SIZE, color="black")))
        motif_label(x0 + 8, line_y[1], ROW_SUBS[r])

# column titles and x-axis titles
for c, name in enumerate(COLUMNS):
    x0, x1 = COL_PX[c]
    annotations.append(dict(xref="paper", yref="paper", x=px((x0 + x1) / 2), y=py(80),
                            xanchor="center", yanchor="middle", showarrow=False,
                            text=f"<b>{name}</b>", font=dict(family=FONT, size=20, color="black")))
    annotations.append(dict(xref="paper", yref="paper", x=px((x0 + x1) / 2), y=py(777),
                            xanchor="center", yanchor="middle", showarrow=False,
                            text="<b>Distance to TSS (nt)</b>", font=dict(family=FONT, size=20, color="black")))

# y titles
for r in range(3):
    y0, y1 = ROW_PX[r]
    annotations.append(dict(xref="paper", yref="paper", x=px(25), y=py((y0 + y1) / 2),
                            xanchor="center", yanchor="middle", showarrow=False, textangle=-90,
                            text="<b>PHQS/100 Sequences</b>", font=dict(family=FONT, size=17.5, color="black")))

# ---------------- custom legend ----------------
shapes.append(dict(type="rect", xref="paper", yref="paper", x0=px(111), x1=px(1268), y0=py(55), y1=py(10),
                   line=dict(color="black", width=1.2), fillcolor="white"))
shapes.append(dict(type="rect", xref="paper", yref="paper", x0=px(134), x1=px(150), y0=py(42), y1=py(24),
                   line=dict(color=RED, width=0), fillcolor=RED))
shapes.append(dict(type="rect", xref="paper", yref="paper", x0=px(382), x1=px(398), y0=py(42), y1=py(24),
                   line=dict(color=GREEN, width=0), fillcolor=GREEN))
shapes.append(dict(type="circle", xref="paper", yref="paper", x0=px(587), x1=px(599), y0=py(31), y1=py(18),
                   line=dict(width=0), fillcolor=RED))
shapes.append(dict(type="circle", xref="paper", yref="paper", x0=px(587), x1=px(599), y0=py(49), y1=py(36),
                   line=dict(width=0), fillcolor=GREEN))
for (a, b) in [(789, 809), (819, 839)]:
    shapes.append(dict(type="rect", xref="paper", yref="paper", x0=px(a), x1=px(b), y0=py(29), y1=py(21),
                       line=dict(width=0), fillcolor=RED))
    shapes.append(dict(type="rect", xref="paper", yref="paper", x0=px(a), x1=px(b), y0=py(47), y1=py(39),
                       line=dict(width=0), fillcolor=GREEN))
shapes.append(dict(type="rect", xref="paper", yref="paper", x0=px(979), x1=px(1022), y0=py(29), y1=py(23),
                   line=dict(width=0), fillcolor=RED))
shapes.append(dict(type="rect", xref="paper", yref="paper", x0=px(979), x1=px(1022), y0=py(46), y1=py(40),
                   line=dict(width=0), fillcolor=GREEN))
for txt, xpos, col in [("Non-template", 168, RED), ("Template", 418, GREEN), ("Un-masked", 620, "black"),
                       ("Masked", 856, "black"), ("Motif Contribution", 1048, "black")]:
    annotations.append(dict(xref="paper", yref="paper", x=px(xpos), y=py(34), xanchor="left", yanchor="middle",
                            showarrow=False, text=f"<b>{txt}</b>", font=dict(family=FONT, size=22.5, color=col)))

fig.update_layout(width=W, height=H, margin=dict(l=0, r=0, t=0, b=0),
                  paper_bgcolor="white", plot_bgcolor="white",
                  annotations=annotations, shapes=shapes, showlegend=False)

fig.write_html("out.html", config={"displayModeBar": False},
               post_script="document.body.style.margin='0';document.body.style.padding='0';"
                           "document.documentElement.style.overflow='hidden';")
